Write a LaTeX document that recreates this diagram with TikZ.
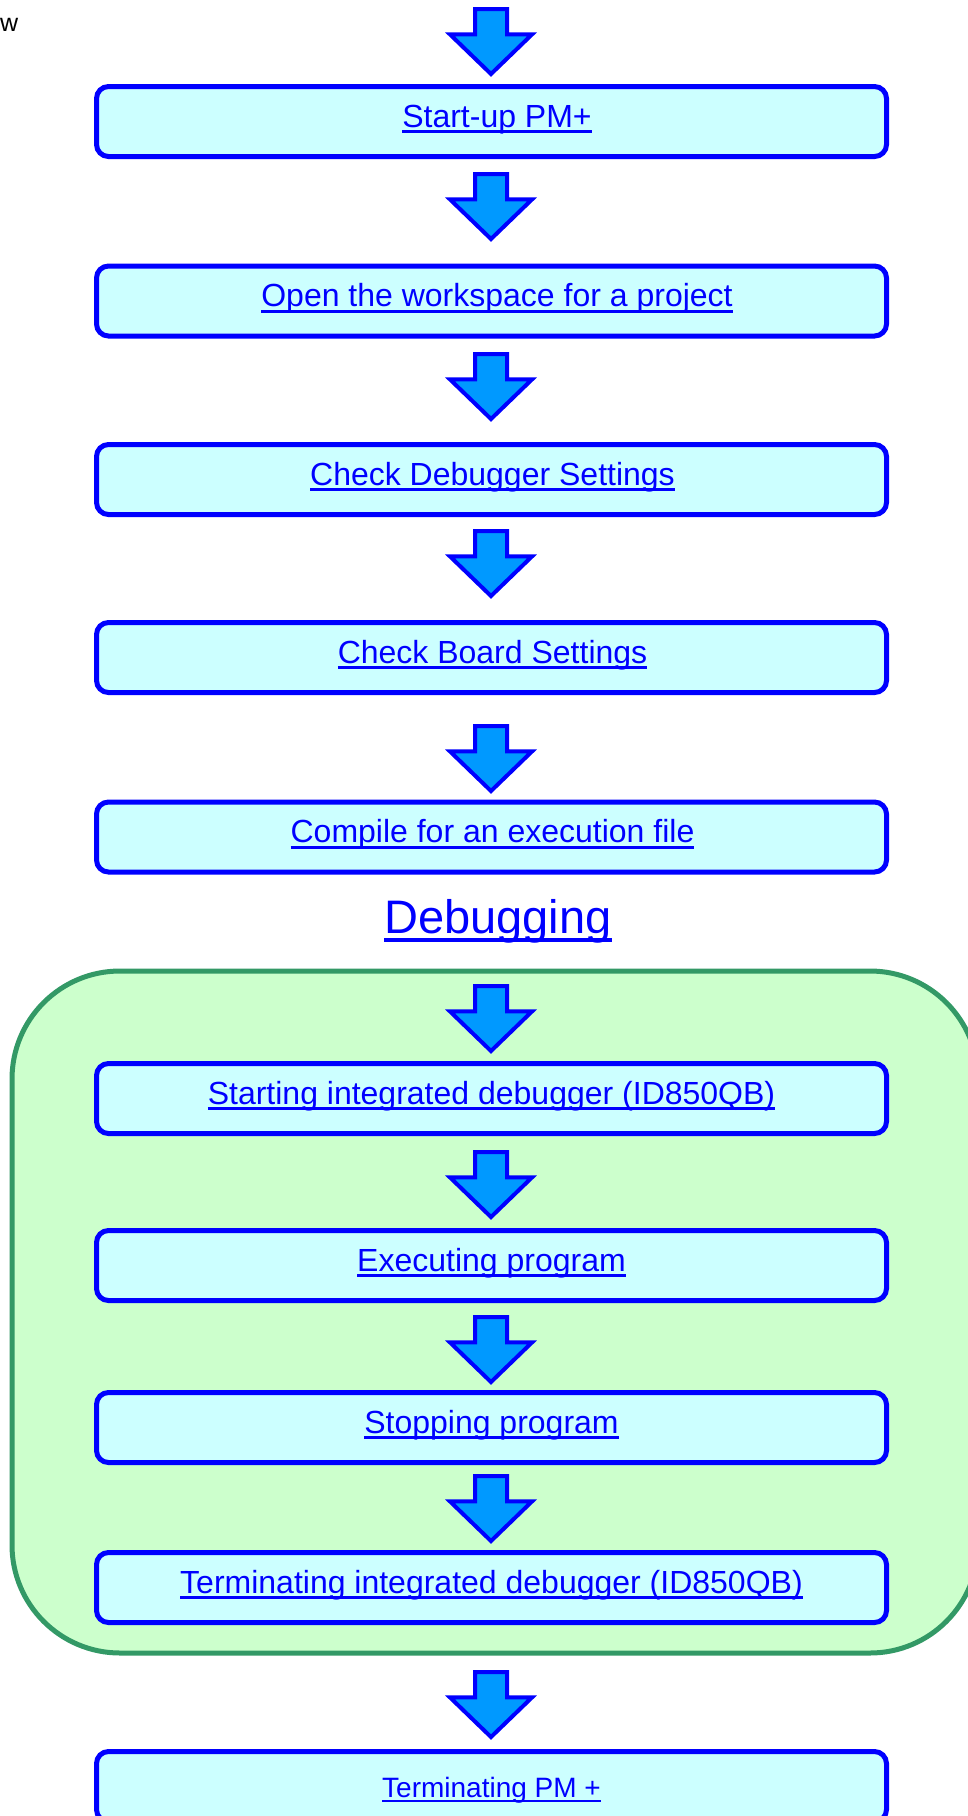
\documentclass[tikz,border=0pt]{standalone}
\usepackage{fontspec}
\setmainfont{Liberation Sans}
\usetikzlibrary{shapes.arrows}
\definecolor{boxcyan}{RGB}{204,255,255}
\definecolor{arrowblue}{RGB}{0,153,255}
\definecolor{debuggreen}{RGB}{204,255,204}
\definecolor{framegreen}{RGB}{51,153,102}
\newcommand{\linkul}[1]{\setbox0=\hbox{#1}\rlap{\rule[-0.19em]{\wd0}{0.09em}}\box0}
\tikzstyle{stepbox} = [rectangle, rounded corners=12pt, draw=blue, fill=boxcyan,
	line width=5pt, minimum width=790pt, minimum height=70pt, inner sep=0pt,
	text height=26pt, text depth=15pt, text=blue, font=\fontsize{32}{38}\selectfont]
\tikzstyle{downarrow} = [single arrow, draw=blue, fill=arrowblue, line width=4pt,
	rotate=-90, minimum height=65pt, single arrow head extend=25pt, inner xsep=0pt,
	inner ysep=14pt, outer sep=0pt, single arrow tip angle=92, anchor=tail]

\begin{document}
\begin{tikzpicture}[x=1pt,y=-1pt]
	\useasboundingbox (0,0) rectangle (968,1816);
	\draw[framegreen, fill=debuggreen, line width=5pt, rounded corners=108pt]
		(12,971) rectangle (978,1653);
	\node[anchor=base west, inner sep=0pt, font=\fontsize{25}{30}\selectfont] (cut) at (0,31) {w};
	\foreach \y [count=\i from 0] in {9,174,354,531,726,986,1152,1317,1476,1672}
		\node[downarrow] (a\i) at (491,\y) {};
	\node[stepbox] (s1) at (491.5,121.5) {\hspace*{11pt}\linkul{Start-up PM+}};
	\node[stepbox] (s2) at (491.5,301) {\hspace*{11pt}\linkul{Open the workspace for a project}};
	\node[stepbox] (s3) at (491.5,479.5) {\hspace*{2pt}\linkul{Check Debugger Settings}};
	\node[stepbox] (s4) at (491.5,657.5) {\hspace*{2pt}\linkul{Check Board Settings}};
	\node[stepbox] (s5) at (491.5,837) {\hspace*{2pt}\linkul{Compile for an execution file}};
	\node[anchor=base, inner sep=0pt, text=blue, font=\fontsize{47}{56}\selectfont]
		(debug) at (498,933) {\linkul{Debugging}};
	\node[stepbox] (s6) at (491.5,1098.5) {\linkul{Starting integrated debugger (ID850QB)}};
	\node[stepbox] (s7) at (491.5,1265.5) {\linkul{Executing program}};
	\node[stepbox] (s8) at (491.5,1427.5) {\linkul{Stopping program}};
	\node[stepbox] (s9) at (491.5,1587.5) {\linkul{Terminating integrated debugger (ID850QB)}};
	\node[stepbox, text depth=5pt, font=\fontsize{28}{34}\selectfont] (s10) at (491.5,1786.5)
		{\linkul{Terminating PM +}};
\end{tikzpicture}
\end{document}
